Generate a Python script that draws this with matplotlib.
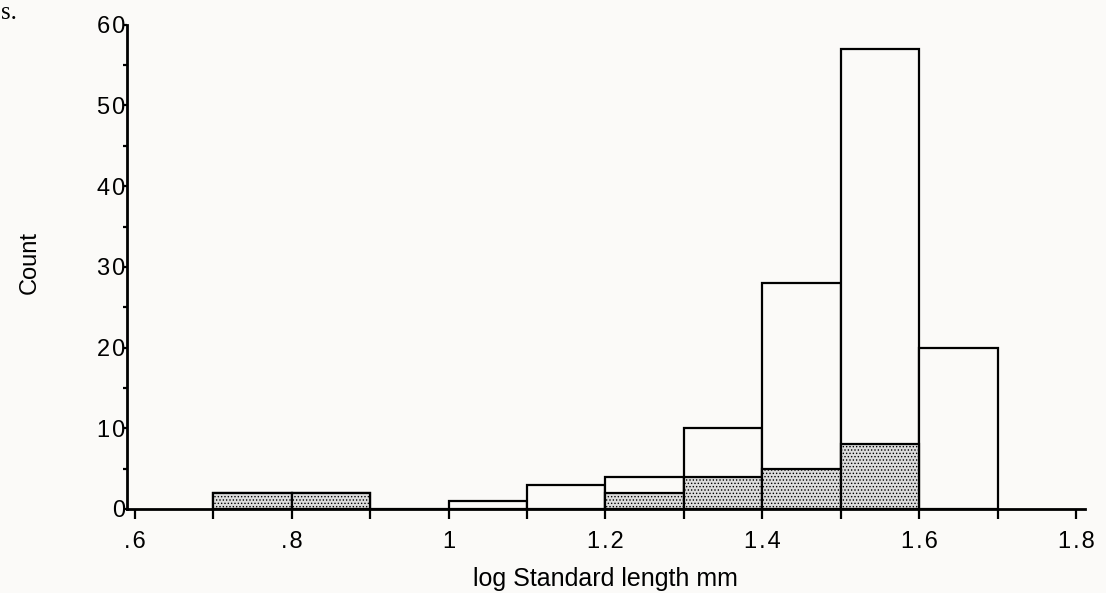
import matplotlib
matplotlib.use("Agg")
import matplotlib.pyplot as plt
import numpy as np

# bin left edges (log standard length, mm) and counts
bin_left = [0.7, 0.8, 0.9, 1.0, 1.1, 1.2, 1.3, 1.4, 1.5, 1.6]
total_count = [2, 2, 0, 1, 3, 4, 10, 28, 57, 20]
shaded_count = [2, 2, 0, 0, 0, 2, 4, 5, 8, 0]
bin_width = 0.1

x_ticks = [0.6, 0.8, 1.0, 1.2, 1.4, 1.6, 1.8]
x_ticklabels = [".6", ".8", "1", "1.2", "1.4", "1.6", "1.8"]
y_ticks = [0, 10, 20, 30, 40, 50, 60]
y_ticklabels = ["0", "10", "20", "30", "40", "50", "60"]


def spaced(s):
    # the old plot font has loose letter spacing
    return "\u200a".join(s)


plt.rcParams['font.family'] = ['Liberation Sans', 'DejaVu Sans']
plt.rcParams['hatch.linewidth'] = 0.6
plt.rcParams['hatch.color'] = '#555555'

bg = '#fbfaf8'
fig = plt.figure(figsize=(11.06, 5.93), dpi=100, facecolor=bg)
ax = fig.add_axes([0.1148, 0.1417, 0.866, 0.8165], facecolor=bg)

ax.bar(bin_left, total_count, width=bin_width, align='edge',
       facecolor=bg, edgecolor='black', linewidth=1.6, zorder=2)
shaded = [c if c > 0 else np.nan for c in shaded_count]
ax.bar(bin_left, shaded, width=bin_width, align='edge',
       facecolor='#dcdcdc', edgecolor='black', linewidth=1.6,
       hatch='.....', zorder=3)

ax.set_xlim(0.59, 1.811)
ax.set_ylim(0, 60)

for side in ['top', 'right']:
    ax.spines[side].set_visible(False)
for side in ['left', 'bottom']:
    ax.spines[side].set_linewidth(2)
    ax.spines[side].set_zorder(4)

ax.set_xticks(x_ticks)
ax.set_xticklabels([spaced(t) for t in x_ticklabels])
ax.set_xticks(np.arange(0.7, 1.8, 0.2), minor=True)
ax.set_yticks(y_ticks)
ax.set_yticklabels([spaced(t) for t in y_ticklabels])
ax.set_yticks(np.arange(5, 60, 10), minor=True)

ax.tick_params(axis='x', which='both', direction='out', length=7, width=1.6,
               labelsize=17, pad=9)
ax.tick_params(axis='y', which='both', direction='out', length=3, width=1.6,
               labelsize=17, pad=-2)

ax.set_xlabel("log Standard length mm", fontsize=18, labelpad=10)
ax.set_ylabel("Count", fontsize=17)
ax.yaxis.set_label_coords(-0.09, 0.51)

fig.text(0.001, 0.997, "s.", fontsize=18, family='Liberation Serif',
         ha='left', va='top')

plt.savefig("out.png", dpi=100, facecolor=bg)
plt.close()
